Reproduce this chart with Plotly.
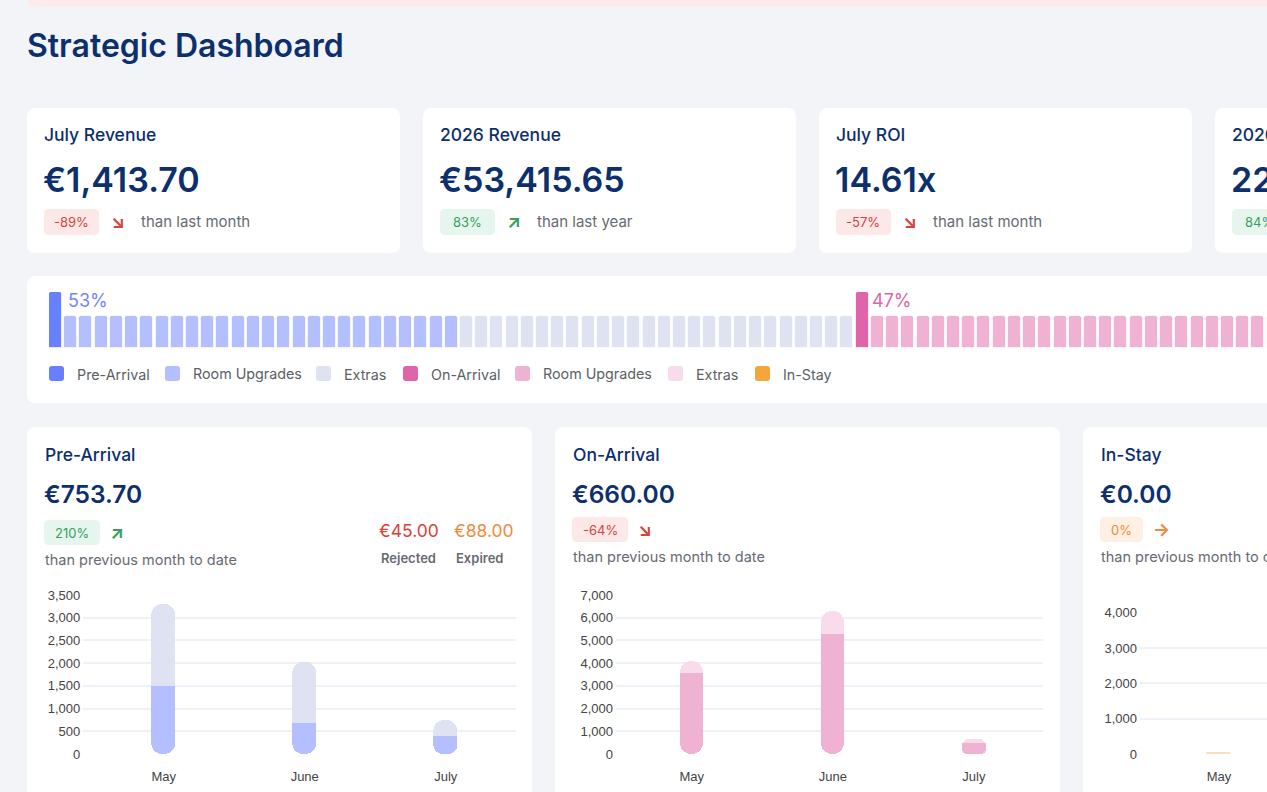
import plotly.graph_objects as go

W, H = 1267, 792

# ---------------- data ----------------
months = ["May", "June", "July"]
pre_room_upgrades = [1490, 690, 390]
pre_extras = [1810, 1340, 363.7]
on_room_upgrades = [3570, 5270, 470]
on_extras = [530, 1030, 190]
in_stay_values = [0, 0, 0]

pre_y_ticks = [0, 500, 1000, 1500, 2000, 2500, 3000, 3500]
on_y_ticks = [0, 1000, 2000, 3000, 4000, 5000, 6000, 7000]
in_y_ticks = [0, 1000, 2000, 3000, 4000]

share_labels = ["53%", "47%"]
pre_room_cells = 26
pre_extra_cells = 26
on_room_cells = 39
on_extra_cells = 7

kpi_titles = ["July Revenue", "2026 Revenue", "July ROI", "2026 ROI"]
kpi_values = ["€1,413.70", "€53,415.65", "14.61x", "22.90x"]
kpi_changes = ["-89%", "83%", "-57%", "84%"]
kpi_compare = ["than last month", "than last year", "than last month", "than last year"]

legend_labels = ["Pre-Arrival", "Room Upgrades", "Extras", "On-Arrival",
                 "Room Upgrades", "Extras", "In-Stay"]

panel_titles = ["Pre-Arrival", "On-Arrival", "In-Stay"]
panel_values = ["€753.70", "€660.00", "€0.00"]
panel_changes = ["210%", "-64%", "0%"]
rejected_value = "€45.00"
expired_value = "€88.00"

# ---------------- styles ----------------
BG = "#f3f4f8"
NAVY = "#0c2f6e"
GREY = "#676b73"
PRE = "#6680ff"
PRE_ROOM = "#b3bfff"
PRE_EXTRA = "#dfe3f1"
ON = "#e065a8"
ON_ROOM = "#f0b2d2"
ON_EXTRA = "#f8dcec"
INSTAY = "#f2a73b"
RED = "#d9413a"
RED_BG = "#fde8e8"
GREEN = "#3a9f5e"
GREEN_BG = "#e6f6ee"
ORANGE = "#f08a3c"
ORANGE_BG = "#fff0e3"
FONT = "Inter"
TICKFONT = dict(family="Liberation Sans", size=13, color="#444444")
BAR_R = 11  # px corner radius of chart bars


def X(px):
    return px / W


def Y(py):
    return 1 - py / H


def rrect(x0, y0, x1, y1, r, fill):
    rx, ry = r / W, r / H
    a, b, c, d = X(x0), Y(y0), X(x1), Y(y1)
    path = (f"M {a+rx},{b} L {c-rx},{b} Q {c},{b} {c},{b-ry} "
            f"L {c},{d+ry} Q {c},{d} {c-rx},{d} L {a+rx},{d} Q {a},{d} {a},{d+ry} "
            f"L {a},{b-ry} Q {a},{b} {a+rx},{b} Z")
    return dict(type="path", path=path, xref="paper", yref="paper",
                fillcolor=fill, line=dict(width=0), layer="below")


shapes = []
annotations = []


def text(px, py, s, size, color, weight=400, anchor="left", family=FONT):
    annotations.append(dict(x=X(px), y=Y(py), xref="paper", yref="paper",
                            text=s, showarrow=False, xanchor=anchor, yanchor="middle",
                            font=dict(family=family, size=size, color=color, weight=weight),
                            borderpad=0))


# top banner remnant
shapes.append(rrect(27, -20, 1300, 7, 8, "#fdeceb"))

# title
text(26, 46, "Strategic Dashboard", 32, NAVY, 600)

# KPI cards
for i in range(4):
    x0 = 27 + i * 396
    shapes.append(rrect(x0, 108, x0 + 373, 253, 9, "white"))
    text(x0 + 16, 135, kpi_titles[i], 17.5, NAVY, 500)
    text(x0 + 15, 179, kpi_values[i], 34, NAVY, 600)
    neg = kpi_changes[i].startswith("-")
    shapes.append(rrect(x0 + 17, 209, x0 + 72, 235, 5, RED_BG if neg else GREEN_BG))
    text(x0 + 44.5, 222, kpi_changes[i], 13, RED if neg else GREEN, 400, "center")
    text(x0 + 83, 222, "↘" if neg else "↗", 18, RED if neg else GREEN, 700)
    text(x0 + 113, 222, kpi_compare[i], 15, GREY)

# progress card
shapes.append(rrect(27, 276, 1400, 403, 9, "white"))
text(67, 300, share_labels[0], 18, "#7387ff")
text(871, 300, share_labels[1], 18, ON)

legend_colors = [PRE, PRE_ROOM, PRE_EXTRA, ON, ON_ROOM, ON_EXTRA, INSTAY]
legend_x = [49, 165, 316, 403, 515, 668, 755]
for lx, lc, ll in zip(legend_x, legend_colors, legend_labels):
    shapes.append(rrect(lx, 366, lx + 15, 381, 3, lc))
    text(lx + 27, 374, ll, 14.3, "#5b5f66")

# bottom panels
panel_x = [27, 555, 1083]
panel_w = 505
badge_bg = [GREEN_BG, RED_BG, ORANGE_BG]
badge_fg = [GREEN, RED, ORANGE]
badge_w = [56, 56, 43]
arrows = ["↗", "↘", "→"]
for i in range(3):
    x0 = panel_x[i]
    shapes.append(rrect(x0, 427, x0 + panel_w, 850, 9, "white"))
    text(x0 + 17, 454, panel_titles[i], 17.5, NAVY, 500)
    text(x0 + 16, 494, panel_values[i], 24.5, NAVY, 600)
    by = 520 if i == 0 else 517
    shapes.append(rrect(x0 + 17, by, x0 + 17 + badge_w[i], by + 25, 5, badge_bg[i]))
    text(x0 + 17 + badge_w[i] / 2, by + 12.5, panel_changes[i], 13, badge_fg[i], 400, "center")
    text(x0 + 17 + badge_w[i] + 9, by + 12.5, arrows[i], 18, badge_fg[i], 700)
    text(x0 + 17, 559 if i == 0 else 556, "than previous month to date", 14.5, GREY)

text(440, 530, rejected_value, 17.5, RED, 400, "right")
text(515, 530, expired_value, 17.5, ORANGE, 400, "right")
text(437, 558, "Rejected", 13, GREY, 600, "right")
text(504, 558, "Expired", 13, GREY, 600, "right")

# ---------------- traces ----------------
fig = go.Figure()

# progress cells
cell_colors = ([PRE] + [PRE_ROOM] * pre_room_cells + [PRE_EXTRA] * pre_extra_cells +
               [ON] + [ON_ROOM] * on_room_cells + [ON_EXTRA] * on_extra_cells)
n_cells = len(cell_colors)
marker_idx = {0, 1 + pre_room_cells + pre_extra_cells}
cell_heights = [56 if k in marker_idx else 32 for k in range(n_cells)]
fig.add_trace(go.Bar(x=list(range(n_cells)), y=cell_heights, width=0.854,
                     marker=dict(color=cell_colors, cornerradius=3,
                                 line=dict(color="rgba(255,255,255,0.7)", width=1)),
                     xaxis="x", yaxis="y", showlegend=False, hoverinfo="skip"))


def stacked_pair(rooms, extras, c_room, c_extra, xa, ya, w, y_max, plot_h):
    totals = [r + e for r, e in zip(rooms, extras)]
    zeros = [0] * len(rooms)
    # full stack (extras colour), rounded at both ends
    fig.add_trace(go.Bar(x=months, y=totals, base=zeros, name="Extras", width=w,
                         marker=dict(color=c_extra, cornerradius=BAR_R, line=dict(width=0)),
                         customdata=extras, hovertemplate="%{customdata:,.2f}<extra>Extras</extra>",
                         xaxis=xa, yaxis=ya, showlegend=False))
    # room upgrades segment, rounded at the bottom
    fig.add_trace(go.Bar(x=months, y=rooms, base=zeros, name="Room Upgrades", width=w,
                         marker=dict(color=c_room, cornerradius=BAR_R, line=dict(width=0)),
                         xaxis=xa, yaxis=ya, showlegend=False))
    # square off the junction between the two segments
    cap = BAR_R * y_max / plot_h
    cap_base = [max(r - cap, r / 2) for r in rooms]
    cap_len = [r - b for r, b in zip(rooms, cap_base)]
    fig.add_trace(go.Bar(x=months, y=cap_len, base=cap_base, name="Room Upgrades", width=w,
                         marker=dict(color=c_room, cornerradius=0, line=dict(width=0)),
                         xaxis=xa, yaxis=ya, showlegend=False, hoverinfo="skip"))


stacked_pair(pre_room_upgrades, pre_extras, PRE_ROOM, PRE_EXTRA, "x2", "y2", 0.17,
             pre_y_ticks[-1], 159)
stacked_pair(on_room_upgrades, on_extras, ON_ROOM, ON_EXTRA, "x3", "y3", 0.165,
             on_y_ticks[-1], 159)

# in-stay chart
fig.add_trace(go.Bar(x=months, y=in_stay_values, name="In-Stay", width=0.165,
                     marker=dict(color=INSTAY, line=dict(color="#f6d6a6", width=1.5)),
                     xaxis="x4", yaxis="y4", showlegend=False))

grid = "#eef1f7"
common_x = dict(type="category", categoryorder="array", categoryarray=months,
                showgrid=False, zeroline=False, showline=False, ticks="",
                tickfont=TICKFONT, ticklabelstandoff=13, fixedrange=True, automargin=False)
common_y = dict(showgrid=True, gridcolor=grid, gridwidth=1.5, zeroline=False,
                showline=False, ticks="", tickformat=",", tickfont=TICKFONT,
                fixedrange=True, ticklabelstandoff=2, automargin=False)

fig.update_layout(
    width=W, height=H, margin=dict(l=0, r=0, t=0, b=0, pad=0, autoexpand=False),
    paper_bgcolor=BG, plot_bgcolor="rgba(0,0,0,0)",
    barmode="overlay", bargap=0,
    shapes=shapes, annotations=annotations,
    font=dict(family=FONT),
    xaxis=dict(domain=[X(49), 1], range=[-0.427, (W - 55.5) / 15.22],
               visible=False, fixedrange=True, automargin=False),
    yaxis=dict(domain=[Y(348), Y(292)], range=[0, 56], visible=False, fixedrange=True,
               automargin=False),
    xaxis2=dict(domain=[X(83.3), X(515.7)], range=[-0.57, 2.496], anchor="y2", **common_x),
    yaxis2=dict(domain=[Y(754), Y(595)], range=[0, 3500], tickvals=pre_y_ticks,
                anchor="x2", **common_y),
    xaxis3=dict(domain=[X(616), X(1043)], range=[-0.537, 2.49], anchor="y3", **common_x),
    yaxis3=dict(domain=[Y(754), Y(595)], range=[0, 7000], tickvals=on_y_ticks,
                anchor="x3", **common_y),
    xaxis4=dict(domain=[X(1140), 1], range=[-0.56, 0.34], anchor="y4", **common_x),
    yaxis4=dict(domain=[Y(754), Y(612.7)], range=[0, 4000], tickvals=in_y_ticks,
                anchor="x4", **common_y),
)

fig.write_html("out.html", config={"displayModeBar": False},
               post_script="document.body.style.margin='0';document.body.style.overflow='hidden';")
